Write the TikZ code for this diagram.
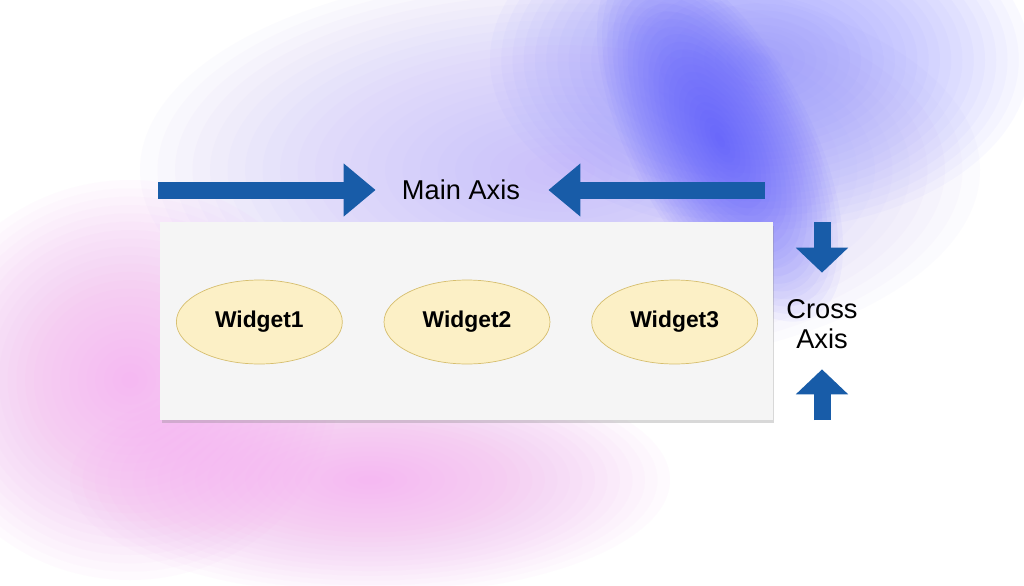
\documentclass[tikz,border=0pt]{standalone}
\usepackage{fontspec}
\setmainfont{Liberation Sans}
\usetikzlibrary{positioning, arrows.meta, shapes.geometric, shadows}
\definecolor{arrowblue}{RGB}{24,92,168}
\definecolor{widgetfill}{RGB}{252,240,198}
\definecolor{widgetline}{RGB}{214,190,110}
\definecolor{panelgray}{RGB}{245,245,245}
\definecolor{blobblue}{RGB}{80,80,255}
\definecolor{blobsky}{RGB}{135,135,255}
\definecolor{bloblilac}{RGB}{185,172,250}
\definecolor{blobpink}{RGB}{245,160,242}
% soft blob: [extra options]{colour}{centre}{x radius}{y radius}
\newcommand{\softblob}[5][]{%
	\foreach \k in {1,...,24}{
		\fill[#2, opacity=0.045, #1] #3 ellipse [x radius={#4*\k/24}, y radius={#5*\k/24}];}}
\tikzset{
	widget/.style={ellipse, draw=widgetline, fill=widgetfill, thin,
		minimum width=3.32cm, minimum height=1.68cm,
		font=\fontsize{13}{15}\selectfont\bfseries},
	panel/.style={rectangle, fill=panelgray, minimum width=12.26cm, minimum height=3.96cm,
		drop shadow={shadow xshift=0.03cm, shadow yshift=-0.07cm, opacity=0.3}},
	axistext/.style={inner sep=0pt, font=\fontsize{15.5}{17.5}\selectfont, align=center},
	fatarrow/.style={draw=arrowblue, line width=0.34cm,
		-{Triangle[length=#1, width=1.02cm]}},
	fatarrow/.default=0.64cm}

\begin{document}
\begin{tikzpicture}[x=0.02cm, y=-0.02cm]
	\useasboundingbox (0,0) rectangle (1024,585);
	
	% background blobs
	\fill[white] (0,0) rectangle (1024,585);
	\softblob{blobpink}{(130,380)}{210}{200}
	\softblob{blobpink}{(370,480)}{300}{115}
	\softblob{bloblilac}{(560,170)}{420}{200}
	\softblob{blobsky}{(760,60)}{270}{170}
	\softblob[rotate around={-62:(720,140)}]{blobblue}{(720,140)}{200}{90}
	
	% flex box
	\node[panel] (box) at (466.5,321) {};
	\node[widget] (w2) at (467,322) {Widget2};
	\node[widget, left=0.82cm of w2] (w1) {Widget1};
	\node[widget, right=0.82cm of w2] (w3) {Widget3};
	
	% axes
	\node[axistext] (main) at (461,190) {Main Axis};
	\node[axistext] (cross) at (822,324) {Cross\\Axis};
	\coordinate (mleft) at (158,190);
	\coordinate (mright) at (765,190);
	\coordinate (ctop) at (822,222);
	\coordinate (cbot) at (822,420);
	
	\draw[fatarrow, shorten >=0.52cm] (mleft) -- (main.west);
	\draw[fatarrow, shorten >=0.56cm] (mright) -- (main.east);
	\draw[fatarrow=0.5cm, shorten >=0.52cm] (ctop) -- (cross.north);
	\draw[fatarrow=0.5cm, shorten >=0.4cm] (cbot) -- (cross.south);
	
\end{tikzpicture}
\end{document}
